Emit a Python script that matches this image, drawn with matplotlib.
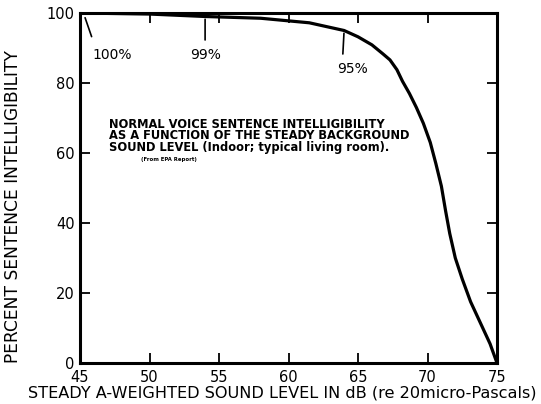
import matplotlib
matplotlib.use('Agg')
import matplotlib.pyplot as plt
from matplotlib import font_manager

# speech intelligibility vs. steady background level
level = [45, 50, 54, 58, 61.5, 64, 65, 66, 66.8, 67.3, 67.8, 68.2, 68.7, 69.2, 69.7,
         70.2, 70.6, 71, 71.3, 71.6, 72, 72.5, 73.1, 73.8, 74.5, 75]
percent = [100, 99.7, 99, 98.5, 97.2, 95, 93.2, 90.9, 88.3, 86.6, 83.8, 80.5, 77, 73,
           68.5, 63, 57, 50.5, 43.5, 37, 30, 24, 17.5, 11.5, 5.5, 0]

x_ticks = [45, 50, 55, 60, 65, 70, 75]
y_ticks = [0, 20, 40, 60, 80, 100]

names = {f.name for f in font_manager.fontManager.ttflist}
narrow = 'Liberation Sans Narrow' if 'Liberation Sans Narrow' in names else 'DejaVu Sans'

fig = plt.figure(figsize=(5.41, 4.04), dpi=100)
ax = fig.add_axes([80 / 541, 1 - 363 / 404, 417 / 541, 350 / 404])

ax.plot(level, percent, color='black', linewidth=2.3, solid_joinstyle='round')

ax.set_xlim(45, 75)
ax.set_ylim(0, 100)
ax.set_xticks(x_ticks)
ax.set_yticks(y_ticks)
ax.tick_params(direction='in', top=True, right=True, length=7, width=1.3,
               labelsize=10.5)
ax.tick_params(axis='x', pad=5)
ax.tick_params(axis='y', pad=4)
for s in ax.spines.values():
    s.set_linewidth(2.2)

# callout arrows
ax.annotate('', xy=(45.3, 99.4), xytext=(45.9, 92.5),
            arrowprops=dict(arrowstyle='-', color='black', lw=1.2))
ax.text(45.9, 88, '100%', ha='left', va='center', fontsize=10)
ax.annotate('', xy=(54, 99), xytext=(54, 91.5),
            arrowprops=dict(arrowstyle='-', color='black', lw=1.2))
ax.text(54, 88, '99%', ha='center', va='center', fontsize=10)
ax.annotate('', xy=(64, 95), xytext=(63.9, 87.5),
            arrowprops=dict(arrowstyle='-', color='black', lw=1.2))
ax.text(64.6, 84, '95%', ha='center', va='center', fontsize=10)

ax.text(47.1, 64.9, 'NORMAL VOICE SENTENCE INTELLIGIBILITY\n'
        'AS A FUNCTION OF THE STEADY BACKGROUND\n'
        'SOUND LEVEL (Indoor; typical living room).',
        fontsize=9.2, fontfamily=narrow, fontstretch='condensed', fontweight='bold',
        va='center', ha='left', linespacing=0.88)
ax.text(49.4, 58, '(From EPA Report)', fontsize=4.2, fontfamily=narrow,
        fontstretch='condensed', fontweight='bold', va='center', ha='left')

ax.set_xlabel('STEADY A-WEIGHTED SOUND LEVEL IN dB (re 20micro-Pascals)',
              fontsize=11.6)
ax.xaxis.set_label_coords(0.485, -0.064)
ax.set_ylabel('PERCENT SENTENCE INTELLIGIBILITY', fontsize=12.3)
ax.yaxis.set_label_coords(-0.139, 0.446)

fig.savefig('out.png', dpi=100)
